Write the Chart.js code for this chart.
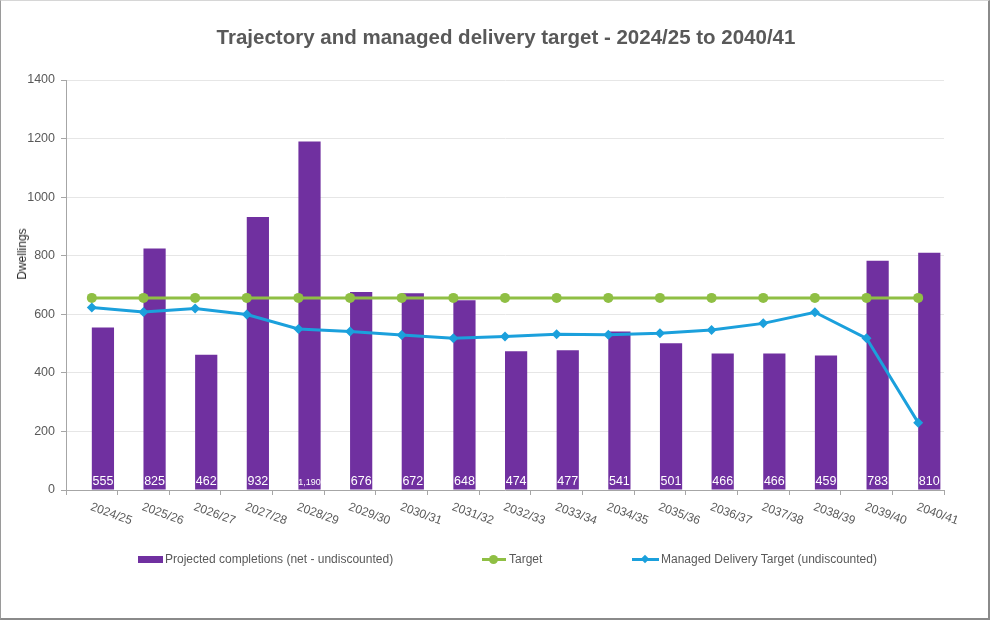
<!DOCTYPE html>
<html>
<head>
<meta charset="utf-8">
<title>Trajectory and managed delivery target</title>
<script src="https://cdn.jsdelivr.net/npm/chart.js@4"></script>
<style>
  html, body { margin: 0; padding: 0; background: #fff; }
  #wrap { position: relative; width: 990px; height: 620px; font-family: "Liberation Sans", Arial, sans-serif; color: #595959; }
  #chart { position: absolute; left: 0; top: 0; }
  #frame {
    position: absolute; inset: 0; box-sizing: border-box; pointer-events: none;
    border-left: 1px solid #9a9a9a; border-top: 1px solid #d6d6d6;
    border-right: 2px solid #8a8a8a; border-bottom: 2px solid #8a8a8a;
  }
  #title { position: absolute; top: 25px; left: 66px; width: 880px; text-align: center; font-weight: bold; font-size: 20.5px; color: #595959; }
  #ytitle { position: absolute; left: 22px; top: 254px; transform: translate(-50%, -50%) rotate(-90deg); font-size: 12px; color: #262626; white-space: nowrap; }
  .leg { position: absolute; top: 552px; height: 14px; font-size: 12px; line-height: 14px; color: #595959; white-space: nowrap; }
  .sw { position: absolute; }
</style>
</head>
<body>
<div id="wrap">
  <canvas id="chart" width="990" height="620"></canvas>
  <div id="title">Trajectory and managed delivery target - 2024/25 to 2040/41</div>
  <div id="ytitle">Dwellings</div>

  <div class="leg" style="left:138px;">
    <span class="sw" style="left:0; top:4px; width:25px; height:7px; background:#7030a0;"></span>
    <span style="position:absolute; left:27px;">Projected completions (net - undiscounted)</span>
  </div>
  <div class="leg" style="left:482px;">
    <span class="sw" style="left:0; top:6px; width:24px; height:3px; background:#8fbf44;"></span>
    <span class="sw" style="left:7px; top:3px; width:9px; height:9px; border-radius:50%; background:#8fbf44;"></span>
    <span style="position:absolute; left:27px;">Target</span>
  </div>
  <div class="leg" style="left:632px;">
    <span class="sw" style="left:0; top:6px; width:27px; height:3px; background:#1ba0dc;"></span>
    <span class="sw" style="left:10px; top:4px; width:6px; height:6px; transform:rotate(45deg); background:#1ba0dc;"></span>
    <span style="position:absolute; left:29px;">Managed Delivery Target (undiscounted)</span>
  </div>

  <div id="frame"></div>
</div>

<script>
// ── Data ────────────────────────────────────────────────────────────────────

const years = [
  "2024/25", "2025/26", "2026/27", "2027/28", "2028/29", "2029/30", "2030/31", "2031/32", "2032/33",
  "2033/34", "2034/35", "2035/36", "2036/37", "2037/38", "2038/39", "2039/40", "2040/41"
];
const projected = [555, 825, 462, 932, 1190, 676, 672, 648, 474, 477, 541, 501, 466, 466, 459, 783, 810];
const target    = [656, 656, 656, 656, 656, 656, 656, 656, 656, 656, 656, 656, 656, 656, 656, 656, 656];
const managed   = [623, 608, 620, 599, 550, 541, 529, 518, 524, 532, 530, 535, 546, 569, 607, 518, 230];
const spacer    = [0, 0, 0, 0, 0, 0, 0, 0, 0, 0, 0, 0, 0, 0, 0, 0, 0];
const yTicks    = [0, 200, 400, 600, 800, 1000, 1200, 1400];

const PURPLE = "#7030a0";
const GREEN  = "#8fbf44";
const BLUE   = "#1ba0dc";
const FONT   = "'Liberation Sans', Arial, sans-serif";

// ── Plugins ─────────────────────────────────────────────────────────────────

// value labels sat at the foot of each bar
const barValues = {
  id: "barValues",
  afterDatasetsDraw(chart) {
    const meta = chart.getDatasetMeta(1);
    const ctx = chart.ctx;
    ctx.save();
    ctx.fillStyle = "#ffffff";
    ctx.textAlign = "center";
    ctx.textBaseline = "alphabetic";
    meta.data.forEach((bar, i) => {
      const txt = projected[i].toLocaleString("en-US");
      // four-digit values don't fit at full size, so they shrink
      ctx.font = txt.length > 3 ? `9px ${FONT}` : `12.5px ${FONT}`;
      ctx.fillText(txt, bar.x, chart.chartArea.bottom - 5);
    });
    ctx.restore();
  }
};

// slanted category labels (clockwise, start at the tick)
const slantLabels = {
  id: "slantLabels",
  afterDraw(chart) {
    const xs = chart.scales.x;
    const ctx = chart.ctx;
    ctx.save();
    ctx.font = `12px ${FONT}`;
    ctx.fillStyle = "#595959";
    ctx.textAlign = "left";
    ctx.textBaseline = "top";
    years.forEach((lab, i) => {
      ctx.save();
      ctx.translate(xs.getPixelForValue(i) + 1, xs.bottom + 6);
      ctx.rotate(20 * Math.PI / 180);
      ctx.fillText(lab, 0, 0);
      ctx.restore();
    });
    ctx.restore();
  }
};

// ── Chart ───────────────────────────────────────────────────────────────────

new Chart(document.getElementById("chart"), {
  type: "bar",
  data: {
    labels: years,
    datasets: [
      {
        // empty slot: Excel leaves the left half of each category blank
        label: "spacer",
        data: spacer,
        backgroundColor: "transparent",
        borderWidth: 0,
        categoryPercentage: 0.86,
        barPercentage: 1,
        order: 3,
      },
      {
        label: "Projected completions (net - undiscounted)",
        data: projected,
        backgroundColor: PURPLE,
        categoryPercentage: 0.86,
        barPercentage: 1,
        order: 3.5,
      },
      {
        type: "line",
        label: "Target",
        data: target,
        borderColor: GREEN,
        backgroundColor: GREEN,
        borderWidth: 3,
        pointRadius: 5,
        pointStyle: "circle",
        pointBorderWidth: 0,
        tension: 0,
        order: 2,
      },
      {
        type: "line",
        label: "Managed Delivery Target (undiscounted)",
        data: managed,
        borderColor: BLUE,
        backgroundColor: BLUE,
        borderWidth: 3,
        pointRadius: 5,
        pointStyle: "rectRot",
        pointBorderWidth: 0,
        tension: 0,
        order: 1,
      },
    ]
  },
  options: {
    responsive: false,
    animation: false,
    layout: { padding: { top: 80, left: 10, right: 46, bottom: 125 } },
    plugins: {
      legend: { display: false },
      title: { display: false },
      tooltip: { enabled: false },
    },
    scales: {
      x: {
        offset: true,
        ticks: { display: false },
        grid: { offset: true, drawOnChartArea: false, drawTicks: true, tickLength: 5, color: "#a6a6a6" },
        border: { color: "#a6a6a6", width: 1 },
        afterFit: s => { s.height = 5; },
      },
      y: {
        min: 0,
        max: 1400,
        afterBuildTicks: s => { s.ticks = yTicks.map(v => ({ value: v })); },
        ticks: {
          color: "#595959",
          font: { family: FONT, size: 12.5 },
          padding: 6,
          callback: v => String(v),
        },
        grid: { color: "#e6e6e6", tickColor: "#a6a6a6", tickLength: 5 },
        border: { color: "#a6a6a6", width: 1 },
        afterFit: s => { s.width = 56; },
      }
    }
  },
  plugins: [barValues, slantLabels]
});
</script>
</body>
</html>
